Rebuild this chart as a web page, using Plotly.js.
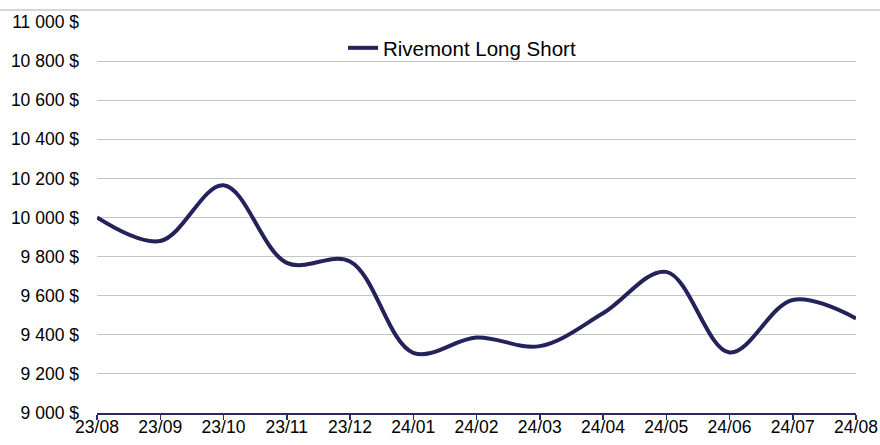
<!DOCTYPE html>
<html>
<head>
<meta charset="utf-8">
<script src="https://cdn.plot.ly/plotly-3.0.1.min.js"></script>
<style>html,body{margin:0;padding:0;background:#fff;}#chart{width:880px;height:445px;}</style>
</head>
<body>
<div id="chart"></div>
<script>
const categories = ["23/08","23/09","23/10","23/11","23/12","24/01","24/02","24/03","24/04","24/05","24/06","24/07","24/08"];
const seriesName = "Rivemont Long Short";
const values = [10000, 9880, 10165, 9768, 9775, 9308, 9386, 9342, 9510, 9722, 9310, 9578, 9484];
const yTickVals = [9000, 9200, 9400, 9600, 9800, 10000, 10200, 10400, 10600, 10800, 11000];
const yTickText = ["9 000 $","9 200 $","9 400 $","9 600 $","9 800 $","10 000 $","10 200 $","10 400 $","10 600 $","10 800 $","11 000 $"];

const L = 97, R = 24, T = 22, B = 32, W = 880, H = 445;
const pw = W - L - R, ph = H - T - B;

const trace = {
  x: categories, y: values, type: "scatter", mode: "lines", name: seriesName,
  line: {color: "#24225a", width: 4, shape: "spline", smoothing: 1}
};

const layout = {
  width: W, height: H,
  margin: {l: L, r: R, t: T, b: B, pad: 0},
  paper_bgcolor: "#fff", plot_bgcolor: "#fff",
  font: {family: "Liberation Sans, Arial, sans-serif", size: 17.5, color: "#000"},
  showlegend: true,
  legend: {x: (343 - L) / pw, xanchor: "left", y: 1 - (48 - T) / ph, yanchor: "middle", orientation: "h",
           font: {size: 20.5, color: "#000"}, bgcolor: "rgba(0,0,0,0)"},
  xaxis: {type: "category", range: [0, categories.length - 1], showgrid: false, zeroline: false,
          showline: true, linecolor: "#2a2a5c", linewidth: 1.5,
          ticks: "outside", ticklen: 5, tickcolor: "#2a2a5c", tickwidth: 1.5,
          ticklabelstandoff: -8,
          tickfont: {size: 17.5, color: "#000"}, fixedrange: true},
  yaxis: {range: [9000, 11000], tickvals: yTickVals, ticktext: yTickText,
          showgrid: true, gridcolor: "#c6c6c6", gridwidth: 1, zeroline: false,
          showline: false, ticks: "", ticklabelstandoff: 17,
          tickfont: {size: 17.5, color: "#000"}, fixedrange: true},
  shapes: [{type: "line", xref: "paper", yref: "paper",
            x0: -L / pw, x1: (W - L) / pw, y0: 1 + 12 / ph, y1: 1 + 12 / ph,
            line: {color: "#d6d6d6", width: 2}}]
};

Plotly.newPlot("chart", [trace], layout, {displayModeBar: false, staticPlot: true});
</script>
</body>
</html>
